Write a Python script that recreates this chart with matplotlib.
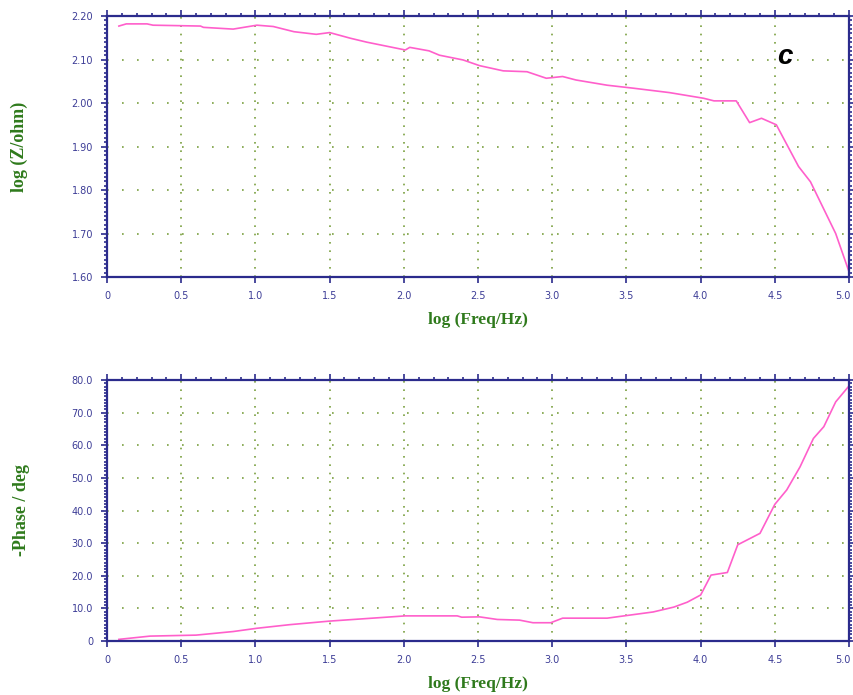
import numpy as np
import matplotlib.pyplot as plt
import matplotlib.transforms as mtransforms
from matplotlib.ticker import MultipleLocator, FixedLocator, FixedFormatter

# log frequency vs log|Z| (upper panel)
logf_z = [0.08, 0.13, 0.27, 0.31, 0.63, 0.65, 0.85, 1.01, 1.12, 1.26, 1.41, 1.50,
          1.64, 1.75, 2.01, 2.04, 2.17, 2.24, 2.40, 2.51, 2.67, 2.83, 2.96, 3.07,
          3.16, 3.37, 3.55, 3.79, 4.02, 4.09, 4.24, 4.33, 4.41, 4.51, 4.66, 4.74,
          4.91, 5.00]
logz = [2.177, 2.182, 2.182, 2.179, 2.177, 2.174, 2.170, 2.179, 2.176, 2.164, 2.158, 2.162,
        2.149, 2.140, 2.122, 2.128, 2.120, 2.110, 2.099, 2.086, 2.074, 2.072, 2.057, 2.061,
        2.053, 2.041, 2.034, 2.024, 2.011, 2.005, 2.005, 1.955, 1.965, 1.950, 1.854, 1.819,
        1.700, 1.612]

# log frequency vs -phase (lower panel)
logf_p = [0.08, 0.29, 0.60, 0.85, 1.01, 1.23, 1.50, 1.82, 2.01, 2.18, 2.36, 2.39,
          2.51, 2.63, 2.78, 2.87, 2.99, 3.07, 3.37, 3.50, 3.68, 3.82, 3.91, 4.00,
          4.07, 4.18, 4.25, 4.40, 4.50, 4.58, 4.67, 4.76, 4.83, 4.91, 5.00]
phase = [0.5, 1.5, 1.8, 2.9, 3.9, 5.0, 6.1, 7.1, 7.7, 7.7, 7.7, 7.3,
         7.4, 6.6, 6.4, 5.6, 5.6, 7.0, 7.0, 7.8, 8.9, 10.4, 11.9, 14.1,
         20.2, 21.0, 29.5, 33.0, 41.9, 46.3, 53.4, 62.1, 65.7, 73.3, 78.2]

x_ticks = [0, 0.5, 1.0, 1.5, 2.0, 2.5, 3.0, 3.5, 4.0, 4.5, 5.0]
x_labels = ['0', '0.5', '1.0', '1.5', '2.0', '2.5', '3.0', '3.5', '4.0', '4.5', '5.0']
z_ticks = [1.6, 1.7, 1.8, 1.9, 2.0, 2.1, 2.2]
z_labels = ['1.60', '1.70', '1.80', '1.90', '2.00', '2.10', '2.20']
p_ticks = [0, 10, 20, 30, 40, 50, 60, 70, 80]
p_labels = ['0', '10.0', '20.0', '30.0', '40.0', '50.0', '60.0', '70.0', '80.0']

navy = '#2b2b8c'
green = '#2f7a1c'
pink = '#ff5fcb'
gridc = '#7aa040'

fig = plt.figure(figsize=(8.54, 6.95), dpi=100)
ax1 = fig.add_axes([0.1253, 0.6014, 0.8689, 0.3755])
ax2 = fig.add_axes([0.1253, 0.0777, 0.8689, 0.3755])


def style(ax, yt, yl, ymin, ymax, yminor):
    ax.set_xlim(0, 5)
    ax.set_ylim(ymin, ymax)
    ax.xaxis.set_major_locator(FixedLocator(x_ticks))
    ax.xaxis.set_major_formatter(FixedFormatter(x_labels))
    ax.xaxis.set_minor_locator(MultipleLocator(0.1))
    ax.yaxis.set_major_locator(FixedLocator(yt))
    ax.yaxis.set_major_formatter(FixedFormatter(yl))
    ax.yaxis.set_minor_locator(MultipleLocator(yminor))
    for s in ax.spines.values():
        s.set_color(navy)
        s.set_linewidth(1.6)
    ax.tick_params(which='both', direction='out', color=navy, width=1.2,
                   top=True, right=True, labelcolor='#3c3c96', labelsize=7)
    ax.tick_params(which='major', length=4, pad=6)
    ax.tick_params(which='minor', length=2.5)
    ax.tick_params(axis='x', which='minor', bottom=False)
    ax.xaxis.grid(True, which='major', color=gridc, linestyle=(0, (1, 4)), linewidth=1.2)
    ax.yaxis.grid(True, which='major', color=gridc, linestyle=(0, (1, 8)), linewidth=1.2)
    ax.set_axisbelow(True)
    ax.set_xlabel('log (Freq/Hz)', family='Liberation Serif', fontweight='bold',
                  fontsize=12.5, color=green)
    ax.xaxis.set_label_coords(0.5, -0.135)
    # last label sits on the figure edge; nudge it inwards so it stays visible
    last = ax.get_xticklabels()[-1]
    shift = mtransforms.ScaledTranslation(-6 / 100, 0, fig.dpi_scale_trans)
    last.set_transform(last.get_transform() + shift)


ax1.plot(logf_z, logz, color=pink, linewidth=1.2)
style(ax1, z_ticks, z_labels, 1.6, 2.2, 0.01)
ax1.set_ylabel('log (Z/ohm)', family='Liberation Serif', fontweight='bold',
               fontsize=13, color=green)
ax1.yaxis.set_label_coords(-0.107, 0.5)
ax1.text(4.57, 2.106, 'c', fontsize=20, fontstyle='italic', fontweight='bold',
         family='Liberation Sans', ha='center', va='center', color='black')

ax2.plot(logf_p, phase, color=pink, linewidth=1.2)
style(ax2, p_ticks, p_labels, 0, 80, 1)
ax2.set_ylabel('-Phase / deg', family='Liberation Serif', fontweight='bold',
               fontsize=13, color=green)
ax2.yaxis.set_label_coords(-0.104, 0.5)

fig.savefig('out.png', dpi=100)
